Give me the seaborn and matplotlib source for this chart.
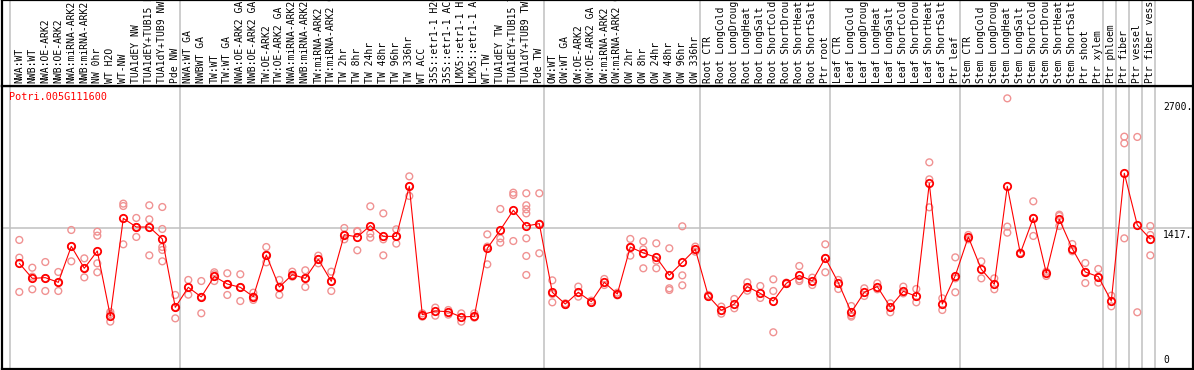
import matplotlib
matplotlib.use("Agg")
import matplotlib.pyplot as plt
import matplotlib.transforms as mtransforms
import numpy as np
import pandas as pd
import seaborn as sns

# ---- data ----
GENE = "Potri.005G111600"

samples = [
    "NWA:WT", "NWB:WT", "NWA:OE-ARK2", "NWB:OE-ARK2", "NWA:miRNA-ARK2",
    "NWB:miRNA-ARK2", "NW 0hr", "WT H2O", "WT-NW", "TUA1dEY NW",
    "TUA1dEY+TUB15 NW", "TUA1dY+TUB9 NW", "Pde NW",
    "NWA:WT GA", "NWBWT GA", "TW:WT", "TW:WT GA", "NWA:OE-ARK2 GA",
    "NWB:OE-ARK2 GA", "TW:OE-ARK2", "TW:OE-ARK2 GA", "NWA:miRNA-ARK2 GA",
    "NWB:miRNA-ARK2 GA", "TW:miRNA-ARK2", "TW:miRNA-ARK2 GA", "TW 2hr",
    "TW 8hr", "TW 24hr", "TW 48hr", "TW 96hr", "TW 336hr", "WT ACC",
    "35S::etr1-1 H2O", "35S::etr1-1 ACC", "LMX5::etr1-1 H2O",
    "LMX5::etr1-1 ACC", "WT-TW", "TUA1dEY TW", "TUA1dEY+TUB15 TW",
    "TUA1dY+TUB9 TW", "Pde TW",
    "OW:WT", "OW:WT GA", "OW:OE-ARK2", "OW:OE-ARK2 GA", "OW:miRNA-ARK2",
    "OW:miRNA-ARK2 GA", "OW 2hr", "OW 8hr", "OW 24hr", "OW 48hr", "OW 96hr",
    "OW 336hr",
    "Root CTR", "Root LongCold", "Root LongDrought", "Root LongHeat",
    "Root LongSalt", "Root ShortCold", "Root ShortDrought", "Root ShortHeat",
    "Root ShortSalt", "Ptr root",
    "Leaf CTR", "Leaf LongCold", "Leaf LongDrought", "Leaf LongHeat",
    "Leaf LongSalt", "Leaf ShortCold", "Leaf ShortDrought", "Leaf ShortHeat",
    "Leaf ShortSalt", "Ptr leaf",
    "Stem CTR", "Stem LongCold", "Stem LongDrought", "Stem LongHeat",
    "Stem LongSalt", "Stem ShortCold", "Stem ShortDrought", "Stem ShortHeat",
    "Stem ShortSalt", "Ptr shoot", "Ptr xylem",
    "Ptr phloem", "Ptr fiber", "Ptr vessel", "Ptr fiber vessel",
]
group_sizes = [13, 28, 12, 10, 10, 11, 1, 1, 1, 1]

means = [
    1062, 911, 918, 871, 1233, 1012, 1186, 533, 1514, 1427, 1427, 1307, 620,
    821, 724, 931, 854, 821, 727, 1146, 824, 948, 911, 1102, 881, 1350, 1327,
    1441, 1333, 1333, 1836, 546, 583, 576, 523, 529, 1213, 1397, 1595, 1437,
    1461,
    771, 653, 771, 677, 871, 754, 1226, 1166, 1122, 941, 1072, 1203,
    734, 590, 653, 828, 760, 683, 861, 941, 884, 1116,
    868, 570, 771, 828, 623, 781, 730, 1866, 653, 938,
    1327, 1002, 851, 1836, 1163, 1518, 965, 1504, 1209, 975, 928,
    683, 1967, 1447, 1307,
]

replicates = [
    [1297, 1119, 774], [1018, 928, 801], [1075, 911, 784], [975, 868, 784],
    [1397, 1233, 1082], [1112, 1012, 921], [1380, 1340, 1062, 972],
    [573, 553, 476], [1662, 1638, 1253], [1518, 1427, 1327],
    [1645, 1504, 1142], [1628, 1407, 1226, 1196, 1082], [744, 620, 509],
    [895, 821, 747], [884, 724, 560], [972, 952, 884], [962, 854, 744],
    [952, 821, 683], [767, 727, 694], [1226, 1146, 1072], [895, 824, 744],
    [978, 948, 928], [992, 911, 824], [1139, 1102, 1062], [978, 881, 784],
    [1417, 1350, 1303], [1387, 1380, 1193], [1635, 1360, 1320],
    [1564, 1303, 1142], [1404, 1333, 1260], [1936, 1836, 1739],
    [559, 526], [617, 536], [593, 546], [559, 476], [559, 516],
    [1353, 1230, 1052], [1608, 1313, 1270], [1772, 1749, 1286],
    [1766, 1645, 1605, 1564, 1313, 1136, 945], [1766, 1461, 1163],
    [891, 754, 670], [660, 643], [828, 727], [687, 667], [905, 844],
    [767, 740], [1307, 1226, 1139], [1283, 1203, 1012], [1263, 1089, 1012],
    [1213, 811, 794], [1434, 941, 841], [1230, 1179],
    [744, 727], [627, 556], [704, 610], [871, 787], [834, 714],
    [901, 784, 369], [868, 854], [1035, 901, 884], [918, 844],
    [1253, 1116, 972],
    [895, 804], [633, 539, 526], [811, 734], [861, 801], [660, 570],
    [828, 760], [804, 670], [2077, 1906, 1625], [710, 593], [1122, 911, 771],
    [1347, 1303], [1082, 911], [911, 801], [2720, 1431, 1370], [1169, 1156],
    [1685, 1518, 1337], [978, 935], [1551, 1538, 1437], [1256, 1183],
    [1065, 975, 864], [1005, 921, 868],
    [737, 630], [2335, 2268, 1313], [2332, 570], [1437, 1347, 1142],
]

y_ticks = [0, 1417, 2700]
y_tick_labels = ["0", "1417.", "2700."]

# ---- layout (pixel based, figure is 1194 x 370) ----
W, H = 1194, 370
LEFT, RIGHT = 1.5, 1192.7
SPLIT, BOTTOM = 86, 369
X0, DX = 19.3, 13.0          # pixel of first sample, pixel step
Y_MAX = 2844

GRID = "#c0c0c0"
MEAN_RED = "#ff0000"
REP_RED = "#f09292"
FONT = "DejaVu Sans Mono"

sns.set_style("white")
plt.rcParams["font.family"] = [FONT, "DejaVu Sans"]

pos = np.arange(len(samples))
rep_df = pd.DataFrame(
    [(i, v) for i, vals in enumerate(replicates) for v in vals],
    columns=["pos", "value"],
)
mean_df = pd.DataFrame({"pos": pos, "value": means})

fig = plt.figure(figsize=(W / 100, H / 100), dpi=100)
ax_w = (RIGHT - LEFT) / W
ax = fig.add_axes([LEFT / W, (H - BOTTOM) / H, ax_w, (BOTTOM - SPLIT) / H])
ax_top = fig.add_axes([LEFT / W, (H - SPLIT) / H, ax_w, SPLIT / H])

xlim = ((LEFT - X0) / DX, (RIGHT - X0) / DX)
for a in (ax, ax_top):
    a.set_xlim(*xlim)
    a.set_xticks([])
    a.set_yticks([])
    for s in a.spines.values():
        s.set_color("black")
        s.set_linewidth(1.6)
ax.set_ylim(0, Y_MAX)
ax_top.set_ylim(0, 1)

# group dividers
ends = np.cumsum(group_sizes) - 1
dividers = [-0.7] + list(ends + 0.38)
for a in (ax, ax_top):
    for d in dividers:
        a.axvline(d, color=GRID, lw=1.1, zorder=0)
ax.axhline(y_ticks[1], color=GRID, lw=1.1, zorder=0)

# replicate circles, then the mean line
sns.scatterplot(data=rep_df, x="pos", y="value", ax=ax, marker="o", s=24,
                facecolor="none", edgecolor=REP_RED, linewidth=1.0,
                zorder=2, legend=False)
sns.lineplot(data=mean_df, x="pos", y="value", ax=ax, color=MEAN_RED,
             lw=0.8, marker="o", markersize=5.3, markerfacecolor="none",
             markeredgecolor=MEAN_RED, markeredgewidth=1.3, zorder=3)
ax.set_xlabel("")
ax.set_ylabel("")

# sample labels, rotated, sitting on the divider line
lab_tr = mtransforms.offset_copy(
    mtransforms.blended_transform_factory(ax_top.transData, ax_top.transAxes),
    fig=fig, x=0, y=3, units="dots")
for i, name in enumerate(samples):
    ax_top.text(i, 0, name, rotation=90, ha="center", va="bottom",
                fontsize=7, family=FONT, color="black", transform=lab_tr)

# right-hand value labels
tick_tr = mtransforms.blended_transform_factory(ax.transAxes, ax.transData)
x_lab = (1163.3 - LEFT) / (RIGHT - LEFT)
for v, t in zip(y_ticks, y_tick_labels):
    if v == 0:
        tr = mtransforms.offset_copy(tick_tr, fig=fig, x=0, y=4, units="dots")
        va = "bottom"
    else:
        tr = mtransforms.offset_copy(tick_tr, fig=fig, x=0, y=-2, units="dots")
        va = "top"
    ax.text(x_lab, v, t, ha="left", va=va, fontsize=7, family=FONT,
            color="black", transform=tr)

# gene name
ax.text((9.3 - LEFT) / (RIGHT - LEFT), (BOTTOM - 97) / (BOTTOM - SPLIT), GENE,
        ha="left", va="center", fontsize=7.3, family=FONT, color=MEAN_RED,
        transform=ax.transAxes)

fig.savefig("out.png", dpi=100)
